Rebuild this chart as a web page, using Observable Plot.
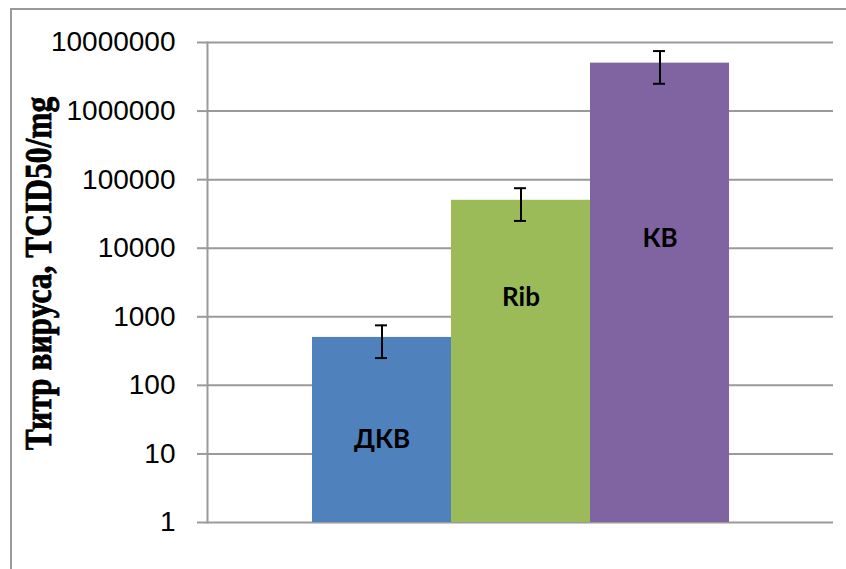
<!DOCTYPE html>
<html>
<head>
<meta charset="utf-8">
<script src="https://cdn.jsdelivr.net/npm/d3@7"></script>
<script src="https://cdn.jsdelivr.net/npm/@observablehq/plot@0.6"></script>
<style>
  html, body { margin: 0; padding: 0; background: white; overflow: hidden; }
  #wrap { position: relative; width: 846px; height: 569px; }
  #border { position: absolute; left: 10px; top: 8px; width: 900px; height: 700px;
            border-top: 2px solid #9a9a9a; border-left: 2px solid #9a9a9a; pointer-events: none; z-index: 2; }
</style>
</head>
<body>
<div id="wrap"><div id="border"></div></div>
<script>
const categories = ["ДКВ", "Rib", "КВ"];
const values = [500, 50000, 5000000];
const errLow = [250, 25000, 2500000];
const errHigh = [750, 75000, 7500000];
const colors = ["#4F81BD", "#9BBB59", "#8064A2"];
const labelY = [16, 1900, 14000];
const yTicks = [1, 10, 100, 1000, 10000, 100000, 1000000, 10000000];
const yTitle = "Титр вируса, TCID50/mg";

const data = categories.map((c, i) => ({
  cat: c, value: values[i], lo: errLow[i], hi: errHigh[i], color: colors[i], ly: labelY[i]
}));

const chart = Plot.plot({
  width: 846,
  height: 569,
  marginLeft: 207,
  marginRight: 13,
  marginTop: 42,
  marginBottom: 47,
  style: { background: "transparent" },
  x: { domain: categories, range: [311, 730], padding: 0, axis: null },
  y: { type: "log", domain: [1, 10000000], axis: null },
  marks: [
    Plot.ruleY(yTicks, { stroke: "#9a9a9a", strokeWidth: 2 }),
    Plot.axisY(yTicks, {
      tickFormat: d => String(d),
      tickSize: 10,
      tickPadding: 22,
      stroke: "#9a9a9a",
      strokeWidth: 2,
      fill: "black",
      fontSize: 28,
      fontFamily: "Liberation Sans, Arial, sans-serif",
      label: null
    }),
    Plot.frame({ anchor: "left", stroke: "#9a9a9a", strokeWidth: 2 }),
    Plot.barY(data, { x: "cat", y1: () => 1, y2: "value", fill: "color" }),
    Plot.ruleX(data, { x: "cat", y1: "lo", y2: "hi", stroke: "black", strokeWidth: 2 }),
    Plot.tickY(data, { x: "cat", y: "lo", stroke: "black", strokeWidth: 2, insetLeft: 63, insetRight: 64 }),
    Plot.tickY(data, { x: "cat", y: "hi", stroke: "black", strokeWidth: 2, insetLeft: 63, insetRight: 64 }),
    Plot.text(data, { x: "cat", y: "ly", text: "cat", fontSize: 26, fontWeight: "bold",
      fontFamily: "Lato, sans-serif", fill: "black" }),
    Plot.text([yTitle], { text: d => d, frameAnchor: "left", textAnchor: "middle", dx: -169, dy: -9, rotate: -90,
      fontSize: 31.5, fontWeight: "bold", fontFamily: "Liberation Serif, Times New Roman, serif", fill: "black",
      stroke: "black", strokeWidth: 0.7 })
  ]
});
d3.select(chart).selectAll("text").filter(function () { return this.textContent === yTitle; })
  .attr("transform", function () { return (this.getAttribute("transform") || "") + " scale(1,1.2)"; });
document.getElementById("wrap").appendChild(chart);
</script>
</body>
</html>
